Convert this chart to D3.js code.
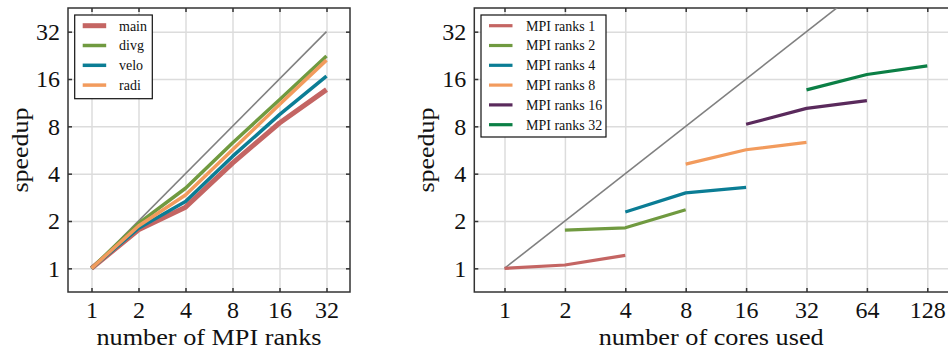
<!DOCTYPE html>
<html>
<head>
<meta charset="utf-8">
<script src="https://cdn.jsdelivr.net/npm/d3@7"></script>
<style>
  body { margin: 0; background: #fff; }
  svg { display: block; }
</style>
</head>
<body>
<svg id="chart" width="948" height="352" font-family="'Liberation Serif', 'Times New Roman', Times, 'DejaVu Serif', serif"></svg>
<script>
// ---- data ----
const ranks = [1, 2, 4, 8, 16, 32];
const seriesNames = ["main", "divg", "velo", "radi"];
const mainVals = [1, 1.76, 2.45, 4.67, 8.4, 13.7];
const divgVals = [1, 1.93, 3.23, 6.27, 11.8, 22.4];
const veloVals = [1, 1.80, 2.66, 5.15, 9.5, 16.7];
const radiVals = [1, 1.86, 2.93, 5.68, 11.0, 21.1];
const idealLeft = [1, 32];

const coreTicks = [1, 2, 4, 8, 16, 32, 64, 128];
const speedTicks = [1, 2, 4, 8, 16, 32];
const mpiNames = ["MPI ranks 1", "MPI ranks 2", "MPI ranks 4", "MPI ranks 8", "MPI ranks 16", "MPI ranks 32"];
const mpiCores = [[1, 2, 4], [2, 4, 8], [4, 8, 16], [8, 16, 32], [16, 32, 64], [32, 64, 128]];
const mpiSpeed = [[1, 1.05, 1.21], [1.75, 1.81, 2.36], [2.28, 3.02, 3.27], [4.60, 5.68, 6.33], [8.24, 10.4, 11.65], [13.65, 17.1, 19.4]];
const idealRight = [1, 128];

const leftColors = ["#c46563", "#709a40", "#0b7d95", "#f29b5d"];
const rightColors = ["#c46563", "#709a40", "#0b7d95", "#f29b5d", "#5a2a5c", "#0b7f45"];

// ---- drawing ----
const FONT = "'Liberation Serif', 'Times New Roman', Times, 'DejaVu Serif', serif";
const svg = d3.select("#chart");
const frameColor = "#333";
const gridColor = "#dcdcdc";

function panel(id, xr, yr, xDomain, yDomain, xTicks, yTicks, xTitle, yTitleX) {
  const x = d3.scaleLog().base(2).domain(xDomain).range(xr);
  const y = d3.scaleLog().base(2).domain(yDomain).range(yr);
  const g = svg.append("g");
  const w = xr[1] - xr[0], h = yr[0] - yr[1];
  svg.append("defs").append("clipPath").attr("id", id)
    .append("rect").attr("x", xr[0]).attr("y", yr[1]).attr("width", w).attr("height", h);

  // grid
  const gx = g.append("g").attr("transform", `translate(0,${yr[0]})`)
    .call(d3.axisBottom(x).tickValues(xTicks).tickSize(-h).tickFormat(""));
  const gy = g.append("g").attr("transform", `translate(${xr[0]},0)`)
    .call(d3.axisLeft(y).tickValues(yTicks).tickSize(-w).tickFormat(""));
  [gx, gy].forEach(a => {
    a.select(".domain").remove();
    a.selectAll("line").attr("stroke", gridColor).attr("stroke-width", 1.5);
  });

  // tick labels and inward ticks
  const fmt = d3.format("d");
  const bx = g.append("g").attr("transform", `translate(0,${yr[0]})`)
    .call(d3.axisBottom(x).tickValues(xTicks).tickSize(-4).tickPadding(0).tickFormat(fmt));
  const tx = g.append("g").attr("transform", `translate(0,${yr[1]})`)
    .call(d3.axisTop(x).tickValues(xTicks).tickSize(-4).tickFormat(""));
  const ly = g.append("g").attr("transform", `translate(${xr[0]},0)`)
    .call(d3.axisLeft(y).tickValues(yTicks).tickSize(-4).tickPadding(8).tickFormat(fmt));
  const ry = g.append("g").attr("transform", `translate(${xr[1]},0)`)
    .call(d3.axisRight(y).tickValues(yTicks).tickSize(-4).tickFormat(""));
  [bx, tx, ly, ry].forEach(a => {
    a.attr("font-family", FONT).attr("font-size", 24);
    a.select(".domain").remove();
    a.selectAll("line").attr("stroke", frameColor).attr("stroke-width", 1.5);
    a.selectAll("text").attr("fill", "#111").attr("font-family", FONT).attr("font-size", 24);
  });
  // x tick label baselines
  bx.selectAll("text").attr("y", 25.5).attr("dy", 0);

  // frame
  g.append("rect").attr("x", xr[0]).attr("y", yr[1]).attr("width", w).attr("height", h)
    .attr("fill", "none").attr("stroke", frameColor).attr("stroke-width", 1.5);

  // titles
  g.append("text").attr("x", (xr[0] + Math.min(xr[1], 948)) / 2).attr("y", 344.5)
    .attr("text-anchor", "middle").attr("font-family", FONT).attr("font-size", 24)
    .attr("textLength", 225).attr("lengthAdjust", "spacingAndGlyphs")
    .attr("fill", "#111").text(xTitle);
  g.append("text").attr("transform", `translate(${yTitleX},${(yr[0] + yr[1]) / 2}) rotate(-90)`)
    .attr("text-anchor", "middle").attr("font-family", FONT).attr("font-size", 24)
    .attr("textLength", 85).attr("lengthAdjust", "spacingAndGlyphs")
    .attr("fill", "#111").text("speedup");

  const plot = svg.append("g").attr("clip-path", `url(#${id})`);
  return { x, y, plot };
}

// left panel
const L = panel("clipL", [68, 350], [292, 8], [Math.SQRT1_2, 32 * Math.SQRT2], [Math.SQRT1_2, 32 * Math.SQRT2],
  ranks, speedTicks, "number of MPI ranks", 28);
const lineL = d3.line().x(d => L.x(d[0])).y(d => L.y(d[1]));
L.plot.append("path").datum(idealLeft.map(v => [v, v])).attr("d", lineL)
  .attr("fill", "none").attr("stroke", "#808080").attr("stroke-width", 1.6);
const leftSeries = [mainVals, divgVals, veloVals, radiVals];
const leftWidths = [5, 3.5, 3.5, 3.5];
leftSeries.forEach((vals, i) => {
  L.plot.append("path").datum(ranks.map((r, j) => [r, vals[j]])).attr("d", lineL)
    .attr("fill", "none").attr("stroke", leftColors[i]).attr("stroke-width", leftWidths[i])
    .attr("stroke-linejoin", "round");
});

// right panel
const R = panel("clipR", [474.3, 957.5], [292, 8], [Math.SQRT1_2, 128 * Math.SQRT2], [Math.SQRT1_2, 32 * Math.SQRT2],
  coreTicks, speedTicks, "number of cores used", 434);
const lineR = d3.line().x(d => R.x(d[0])).y(d => R.y(d[1]));
R.plot.append("path").datum(idealRight.map(v => [v, v])).attr("d", lineR)
  .attr("fill", "none").attr("stroke", "#808080").attr("stroke-width", 1.6);
mpiCores.forEach((cs, i) => {
  R.plot.append("path").datum(cs.map((c, j) => [c, mpiSpeed[i][j]])).attr("d", lineR)
    .attr("fill", "none").attr("stroke", rightColors[i]).attr("stroke-width", 3.2)
    .attr("stroke-linejoin", "round");
});

// legends
function legend(x0, y0, w, h, names, colors, widths, textX) {
  const g = svg.append("g");
  g.append("rect").attr("x", x0).attr("y", y0).attr("width", w).attr("height", h)
    .attr("fill", "#fff").attr("stroke", "#111").attr("stroke-width", 1.2);
  names.forEach((n, i) => {
    const yy = y0 + 10.7 + i * 19.8;
    g.append("line").attr("x1", x0 + 8).attr("x2", x0 + 31.5).attr("y1", yy).attr("y2", yy)
      .attr("stroke", colors[i]).attr("stroke-width", widths[i]);
    g.append("text").attr("x", textX).attr("y", yy).attr("dy", "0.35em")
      .attr("font-family", FONT).attr("font-size", 14).attr("fill", "#111").text(n);
  });
}
legend(74.7, 15, 77.6, 83.7, seriesNames, leftColors, leftWidths, 119);
legend(481, 15, 125, 122, mpiNames, rightColors, mpiNames.map(() => 3.2), 526);
</script>
</body>
</html>
